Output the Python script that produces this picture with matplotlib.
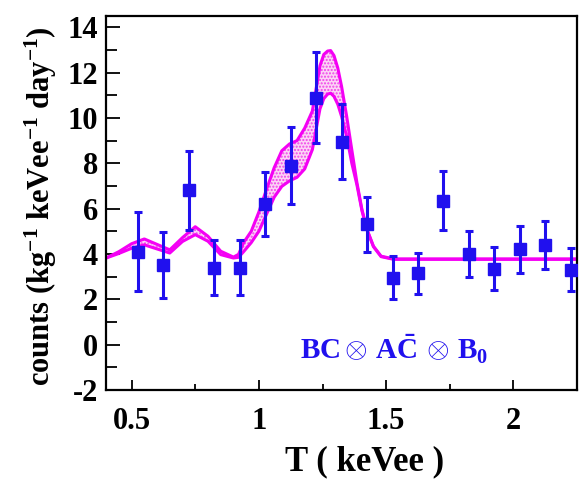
import numpy as np
import matplotlib
matplotlib.use("Agg")
import matplotlib.pyplot as plt
from matplotlib.ticker import MultipleLocator, FixedLocator

# ---- data ----
T_bins = [0.525, 0.625, 0.725, 0.825, 0.925, 1.025, 1.125, 1.225, 1.325,
          1.425, 1.525, 1.625, 1.725, 1.825, 1.925, 2.025, 2.125, 2.225]
counts = [4.1, 3.5, 6.8, 3.4, 3.4, 6.2, 7.9, 10.9, 8.95,
          5.3, 2.95, 3.15, 6.35, 4.0, 3.35, 4.2, 4.4, 3.3]
errors = [1.75, 1.45, 1.75, 1.2, 1.2, 1.4, 1.7, 2.0, 1.65,
          1.2, 0.95, 0.9, 1.3, 1.0, 0.95, 1.05, 1.05, 0.95]

T_curve = [0.40, 0.45, 0.50, 0.55, 0.60, 0.65, 0.70, 0.75, 0.80, 0.85,
           0.90, 0.92, 0.94, 0.97, 1.00, 1.03, 1.06, 1.09, 1.12, 1.15,
           1.18, 1.21, 1.24, 1.255, 1.27, 1.282, 1.295, 1.31, 1.325, 1.345,
           1.365, 1.385, 1.405, 1.425, 1.45, 1.48, 1.53, 2.25]
band_upper = [3.82, 4.10, 4.45, 4.66, 4.42, 4.18, 4.72, 5.20, 4.78, 4.12,
              3.86, 3.98, 4.50, 5.00, 5.85, 6.85, 7.80, 8.55, 8.85, 9.00,
              9.55, 10.3, 12.3, 12.8, 12.95, 12.97, 12.75, 12.2, 11.38, 10.06,
              8.59, 7.15, 5.95, 5.07, 4.34, 3.90, 3.78, 3.78]
band_lower = [3.82, 4.02, 4.25, 4.40, 4.22, 4.04, 4.55, 4.85, 4.56, 3.97,
              3.82, 3.85, 4.10, 4.50, 5.00, 5.75, 6.50, 6.98, 7.22, 7.38,
              7.75, 8.6, 10.4, 10.85, 11.05, 11.09, 10.95, 10.6, 10.06, 9.18,
              8.00, 7.05, 5.90, 5.05, 4.32, 3.88, 3.76, 3.76]

x_major = [0.5, 1.0, 1.5, 2.0]
x_major_labels = ["0.5", "1", "1.5", "2"]
x_minor = [0.75, 1.25, 1.75]
y_major = [-2, 0, 2, 4, 6, 8, 10, 12, 14]

plt.rcParams['font.family'] = ['Liberation Serif', 'DejaVu Serif']
plt.rcParams['font.weight'] = 'bold'
plt.rcParams['axes.unicode_minus'] = False
plt.rcParams['mathtext.fontset'] = 'custom'
plt.rcParams['mathtext.rm'] = 'Liberation Serif:bold'
plt.rcParams['mathtext.it'] = 'Liberation Serif:bold:italic'
plt.rcParams['mathtext.bf'] = 'Liberation Serif:bold'
plt.rcParams['mathtext.default'] = 'rm'
plt.rcParams['hatch.linewidth'] = 1.0

fig = plt.figure(figsize=(5.8, 4.82), dpi=100)
ax = fig.add_axes([0.183, 0.191, 0.812, 0.776])

magenta = '#f400f4'
blue = '#2010ee'

ax.fill_between(T_curve, band_lower, band_upper, facecolor='#fcd4f6',
                edgecolor='#f040e8', hatch='.....', linewidth=0, zorder=1)
ax.plot(T_curve, band_upper, color=magenta, lw=2.2, zorder=2)
ax.plot(T_curve, band_lower, color=magenta, lw=2.2, zorder=2)

ax.errorbar(T_bins, counts, yerr=errors, fmt='s', color=blue, ms=8,
            elinewidth=2.2, capsize=3, capthick=2.2, zorder=3)

ax.set_xlim(0.4, 2.25)
ax.set_ylim(-2, 14.5)

ax.xaxis.set_major_locator(FixedLocator(x_major))
ax.set_xticklabels(x_major_labels)
ax.xaxis.set_minor_locator(FixedLocator(x_minor))
ax.yaxis.set_major_locator(FixedLocator(y_major))
ax.yaxis.set_minor_locator(MultipleLocator(1))

ax.tick_params(axis='both', which='both', direction='in', top=False, right=False,
               width=1.3, color='black')
ax.tick_params(axis='x', which='major', length=7, pad=12, labelsize=22)
ax.tick_params(axis='x', which='minor', length=4)
ax.tick_params(axis='y', which='major', length=10, pad=6, labelsize=22)
ax.tick_params(axis='y', which='minor', length=8)

for s in ax.spines.values():
    s.set_linewidth(1.6)
    s.set_color('black')

ax.set_xlabel('T ( keVee )', fontsize=25, fontweight='bold')
ax.xaxis.set_label_coords(0.548, -0.148)
ax.set_ylabel(r'counts (kg$^{-1}$ keVee$^{-1}$ day$^{-1}$)', fontsize=22,
              fontweight='bold')
ax.yaxis.set_label_coords(-0.10, 0.49)

ax.text(1.16, -0.69, r'$\mathrm{BC}\otimes\,\mathrm{A\bar{C}}\,\otimes\,\mathrm{B_0}$',
        color=blue, fontsize=21, ha='left', va='baseline')

fig.savefig('out.png', dpi=100)
